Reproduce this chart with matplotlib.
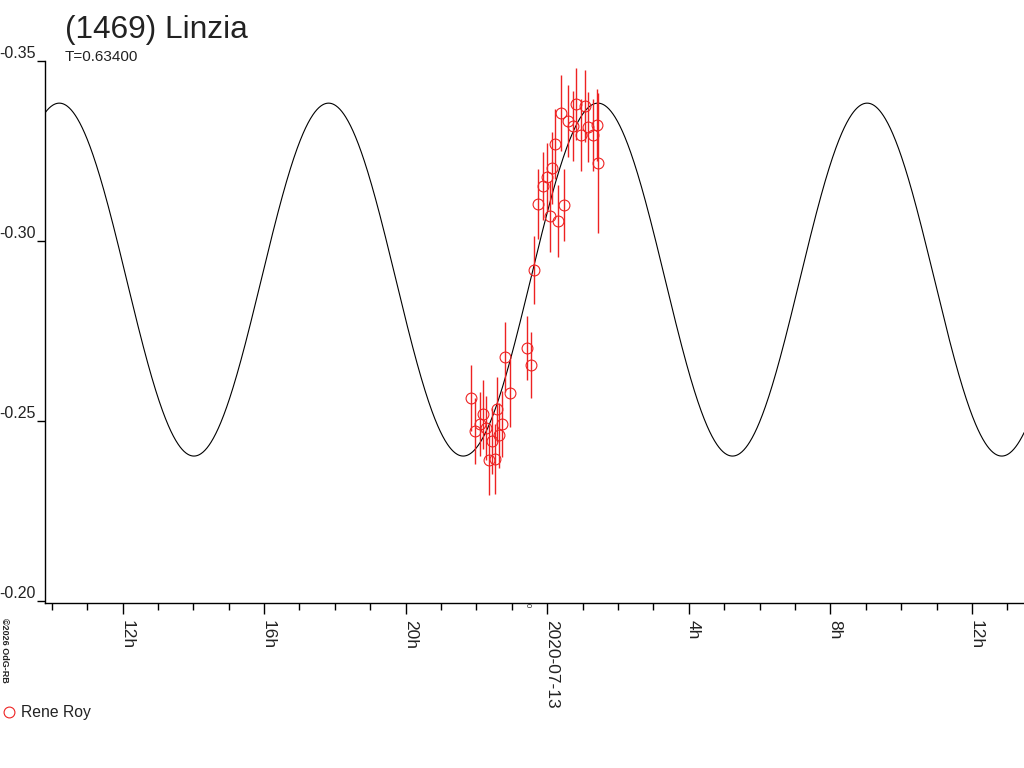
import numpy as np
import matplotlib
matplotlib.use("Agg")
import matplotlib.pyplot as plt
from matplotlib.lines import Line2D

# ---- data (hours relative to 2020-07-13 00:00 UT, reduced magnitude) ----
obs_hours = [-2.155, -2.042, -1.900, -1.816, -1.732, -1.647, -1.562, -1.477,
             -1.421, -1.364, -1.280, -1.195, -1.054, -0.573, -0.460, -0.376,
             -0.263, -0.121, -0.008, 0.076, 0.133, 0.218, 0.302, 0.387,
             0.472, 0.585, 0.726, 0.811, 0.952, 1.065, 1.150, 1.291,
             1.404, 1.432]
obs_mag = [-0.2564, -0.2472, -0.2492, -0.2519, -0.2481, -0.2392, -0.2444, -0.2394,
           -0.2533, -0.2461, -0.2492, -0.2678, -0.2578, -0.2703, -0.2656, -0.2919,
           -0.3103, -0.3153, -0.3178, -0.3069, -0.3203, -0.3269, -0.3056, -0.3356,
           -0.3100, -0.3333, -0.3319, -0.3381, -0.3294, -0.3375, -0.3317, -0.3294,
           -0.3322, -0.3217]
obs_err = [0.0092, 0.0092, 0.0090, 0.0095, 0.0090, 0.0097, 0.0092, 0.0097,
           0.0090, 0.0090, 0.0092, 0.0097, 0.0095, 0.0090, 0.0092, 0.0095,
           0.0098, 0.0095, 0.0095, 0.0098, 0.0100, 0.0098, 0.0100, 0.0105,
           0.0100, 0.0100, 0.0098, 0.0100, 0.0100, 0.0100, 0.0098, 0.0100,
           0.0100, 0.0195]
observer = "Rene Roy"

# ---- model curve parameters (period T in days) ----
period_days = 0.634
model_mean = -0.2893
model_amp = 0.0490
model_peak_hour = 1.43

title = "(1469) Linzia"
subtitle = "T=0.63400"
xtick_hours = [-12, -8, -4, 0, 4, 8, 12]
xtick_labels = ["12h", "16h", "20h", "2020-07-13", "4h", "8h", "12h"]
ytick_vals = [-0.35, -0.30, -0.25, -0.20]
ytick_labels = ["-0.35", "-0.30", "-0.25", "-0.20"]

red = "#ee2222"
txt = "#222222"
plt.rcParams['font.family'] = ['Liberation Sans', 'DejaVu Sans']

W, H = 1024, 768
fig = plt.figure(figsize=(W / 100, H / 100), dpi=100)
ax = fig.add_axes([45 / W, 1 - 603 / H, (W - 45) / W, (603 - 61) / H])

xmin, xmax = -14.19, 13.47
hh = np.linspace(xmin, xmax, 2000)
half_period_h = period_days * 24 / 2
model = model_mean - model_amp * np.cos(2 * np.pi * (hh - model_peak_hour) / half_period_h)
ax.plot(hh, model, color="black", lw=0.8, zorder=2)

ax.errorbar(obs_hours, obs_mag, yerr=obs_err, fmt="none", ecolor=red,
            elinewidth=1.0, capsize=0, zorder=3)
ax.plot(obs_hours, obs_mag, linestyle="none", marker="o", markersize=7.8,
        markerfacecolor="none", markeredgecolor=red, markeredgewidth=0.8, zorder=4)

ax.set_xlim(xmin, xmax)
ax.set_ylim(-0.1995, -0.35)

for s in ("top", "right"):
    ax.spines[s].set_visible(False)
for s in ("left", "bottom"):
    ax.spines[s].set_color("black")
    ax.spines[s].set_linewidth(1.0)

ax.set_xticks(xtick_hours)
ax.set_xticks(np.arange(-14, 14, 1), minor=True)
ax.set_xticklabels(xtick_labels, fontsize=12.5, color=txt)
ax.tick_params(axis="x", which="major", length=8, width=1, pad=4.5, direction="out")
ax.tick_params(axis="x", which="minor", length=5, width=1, direction="out")
for lbl in ax.get_xticklabels():
    lbl.set_rotation(-90)
    lbl.set_rotation_mode("anchor")
    lbl.set_ha("left")
    lbl.set_va("baseline")

ax.set_yticks(ytick_vals)
ax.set_yticklabels(ytick_labels, fontsize=11.5, color=txt)
ax.tick_params(axis="y", which="major", length=6, width=1, pad=0.5, direction="out")
for lbl in ax.get_yticklabels():
    lbl.set_va("bottom")

# small marker of epoch
ax.text(-0.57, -0.1995, "0", transform=ax.transData, fontsize=5.5, rotation=-90,
        rotation_mode="anchor", ha="left", va="center", color=txt,
        clip_on=False)

fig.text(65 / W, 1 - 30 / H, title, fontsize=22.8, color=txt, ha="left", va="center")
fig.text(65 / W, 1 - 57 / H, subtitle, fontsize=11, color=txt, ha="left", va="center")

fig.text(1.5 / W, 1 - 618 / H, "\u00a92026 OdG-RB", fontsize=6.5, fontweight="bold",
         rotation=-90, rotation_mode="anchor", ha="left", va="baseline", color=txt)

handle = Line2D([], [], linestyle="none", marker="o", markersize=7.8,
                markerfacecolor="none", markeredgecolor=red, markeredgewidth=0.8)
fig.legend([handle], [observer], loc="center left",
           bbox_to_anchor=(3 / W, 1 - 713 / H), frameon=False, fontsize=11.3,
           handlelength=0.8, handletextpad=0.35, borderpad=0, borderaxespad=0,
           labelcolor=txt)

fig.savefig("out.png", dpi=100, facecolor="white")
